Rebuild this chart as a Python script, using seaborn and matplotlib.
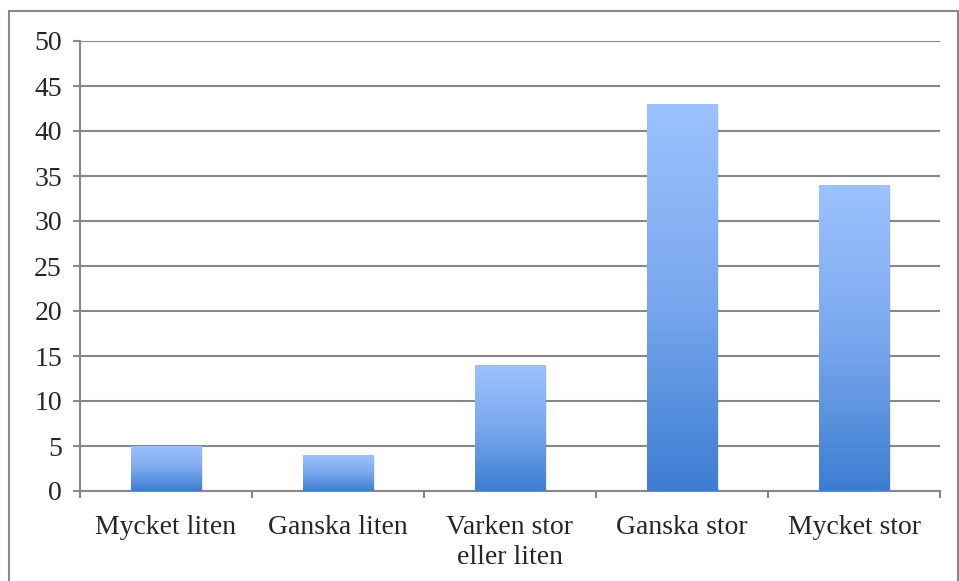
import numpy as np
import pandas as pd
import matplotlib
matplotlib.use("Agg")
import matplotlib.pyplot as plt
from matplotlib.patches import Rectangle
from matplotlib.colors import LinearSegmentedColormap
import seaborn as sns

# === Data ===
categories = ["Mycket liten", "Ganska liten", "Varken stor\neller liten", "Ganska stor", "Mycket stor"]
values = [5, 4, 14, 43, 34]
y_ticks = list(range(0, 51, 5))

df = pd.DataFrame({"kategori": categories, "antal": values})

# === Style ===
sns.set_style("white")
plt.rcParams["font.family"] = ["Liberation Serif", "DejaVu Serif"]

fig = plt.figure(figsize=(9.59, 5.81), dpi=100)
ax = fig.add_axes([80 / 959, 90 / 581, 860 / 959, 450 / 581])

sns.barplot(data=df, x="kategori", y="antal", ax=ax, width=0.41,
            color="#6f9fe6", edgecolor="none", zorder=3)

ax.set_ylim(0, 50)
ax.set_xlim(-0.5, len(categories) - 0.5)
ax.set_yticks(y_ticks)
ax.set_xticks(np.arange(len(categories) + 1) - 0.5, minor=True)
ax.tick_params(axis="x", which="major", bottom=False, length=0, pad=17, labelsize=20)
ax.tick_params(axis="x", which="minor", bottom=True, length=5, width=1.5,
               color="#888888", direction="out")
ax.tick_params(axis="y", left=True, length=5, width=1.5, color="#888888",
               direction="out", labelsize=20, pad=8)
for lbl in ax.get_xticklabels():
    lbl.set_linespacing(1.3)
ax.set_xlabel("")
ax.set_ylabel("")

# grid
ax.yaxis.grid(True, color="#888888", linewidth=1.5, zorder=0)
ax.xaxis.grid(False)
for side in ["top", "right"]:
    ax.spines[side].set_visible(False)
for side in ["left", "bottom"]:
    ax.spines[side].set_color("#888888")
    ax.spines[side].set_linewidth(1.5)
ax.set_axisbelow(True)

# gradient fill for each bar
grad = LinearSegmentedColormap.from_list("bar", ["#3d7dd2", "#7aa8ee", "#9cc2ff"])
gradient = np.linspace(0, 1, 256).reshape(-1, 1)
for bar in ax.patches:
    x0, y0 = bar.get_x(), bar.get_y()
    w, h = bar.get_width(), bar.get_height()
    # soft shadow
    ax.add_patch(Rectangle((x0 + 0.012, y0), w, h - 0.15, facecolor="#000000",
                           alpha=0.08, edgecolor="none", zorder=2))
    im = ax.imshow(gradient, cmap=grad, aspect="auto", origin="lower",
                   extent=[x0, x0 + w, y0, y0 + h], zorder=3)
    im.set_clip_path(bar)
ax.set_xlim(-0.5, len(categories) - 0.5)
ax.set_ylim(0, 50)

# outer frame
fig.patches.append(Rectangle((9 / 959, -0.02), 949 / 959, (581 - 11) / 581 + 0.02,
                             transform=fig.transFigure, fill=False,
                             edgecolor="#888888", linewidth=1.5))

fig.savefig("out.png", dpi=100)
